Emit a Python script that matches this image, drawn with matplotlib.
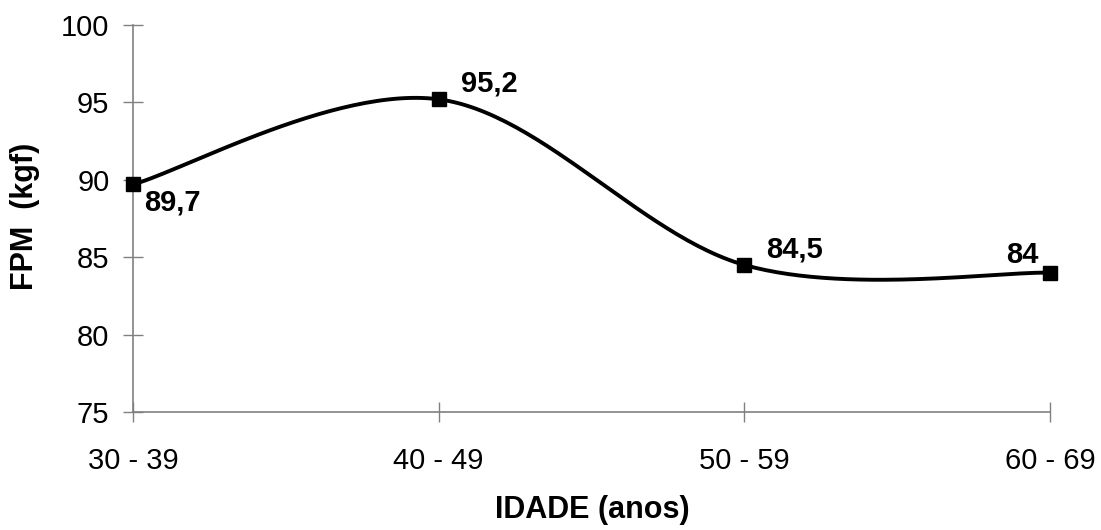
import numpy as np
import matplotlib.pyplot as plt

plt.rcParams['font.family'] = ['Liberation Sans', 'DejaVu Sans']

# dados
idade = ['30 - 39', '40 - 49', '50 - 59', '60 - 69']
fpm = [89.7, 95.2, 84.5, 84.0]
rotulos = ['89,7', '95,2', '84,5', '84']

x = np.arange(len(idade), dtype=float)
y = np.array(fpm)

# curva suavizada tipo Excel (Bezier / Catmull-Rom)
px = np.concatenate([[x[0]], x, [x[-1]]])
py = np.concatenate([[y[0]], y, [y[-1]]])
xs, ys = [], []
t = np.linspace(0, 1, 60)
for i in range(len(x) - 1):
    p0 = np.array([px[i + 1], py[i + 1]])
    p1 = np.array([px[i + 2], py[i + 2]])
    c1 = p0 + (p1 - np.array([px[i], py[i]])) / 6
    c2 = p1 - (np.array([px[i + 3], py[i + 3]]) - p0) / 6
    b = ((1 - t) ** 3)[:, None] * p0 + (3 * (1 - t) ** 2 * t)[:, None] * c1 \
        + (3 * (1 - t) * t ** 2)[:, None] * c2 + (t ** 3)[:, None] * p1
    xs.extend(b[:, 0])
    ys.extend(b[:, 1])

fig = plt.figure(figsize=(11.01, 5.30), dpi=100)
ax = fig.add_axes([133 / 1101, 118 / 530, 917 / 1101, 387 / 530])

ax.plot(xs, ys, color='black', lw=2.8, clip_on=False)
ax.plot(x, y, 's', color='black', ms=10, clip_on=False, zorder=5)

offsets = [(8, -23), (16, 1), (16, 1), (-8, 3)]
aligns = ['left', 'left', 'left', 'right']
for xi, yi, r, off, ha in zip(x, y, rotulos, offsets, aligns):
    ax.annotate(r, (xi, yi), xytext=off, textcoords='offset points',
                ha=ha, va='bottom', fontsize=21, fontweight='bold')

ax.set_xlim(0, 3)
ax.set_ylim(75, 100)
ax.set_xticks(x)
ax.set_xticklabels(idade)
ax.set_yticks([75, 80, 85, 90, 95, 100])

for s in ['top', 'right']:
    ax.spines[s].set_visible(False)
for s in ['left', 'bottom']:
    ax.spines[s].set_color('#808080')
    ax.spines[s].set_linewidth(1.2)
ax.tick_params(direction='inout', length=14, width=1, color='#808080',
               labelsize=21, pad=10)
ax.tick_params(axis='x', pad=18)

fig.text(592 / 1101, 1 - 510 / 530, 'IDADE (anos)', fontsize=22,
         fontweight='bold', ha='center', va='center')
fig.text(25 / 1101, 1 - 216 / 530, 'FPM  (kgf)', fontsize=22,
         fontweight='bold', ha='center', va='center', rotation=90)

fig.savefig('out.png', dpi=100)
